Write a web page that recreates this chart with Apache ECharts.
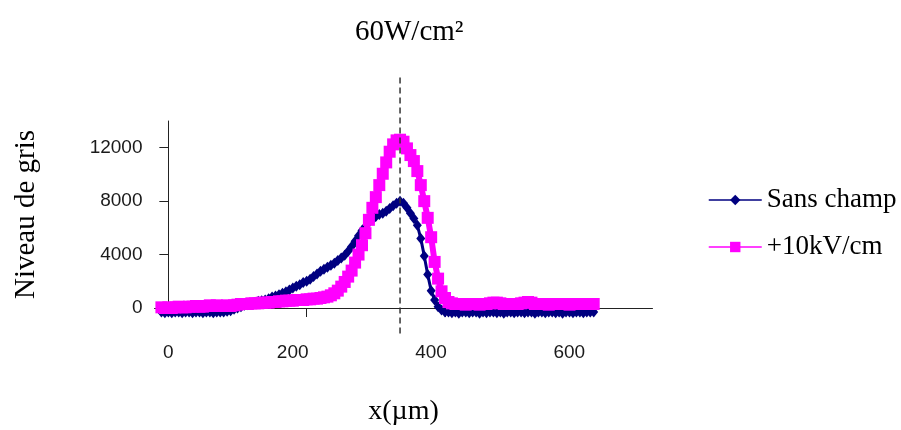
<!DOCTYPE html>
<html>
<head>
<meta charset="utf-8">
<script src="https://cdn.jsdelivr.net/npm/echarts@6/dist/echarts.min.js"></script>
<style>
html,body{margin:0;padding:0;background:#fff;}
#chart{width:901px;height:430px;}
</style>
</head>
<body>
<div id="chart"></div>
<script>
const chartTitle = '60W/cm\u00B2';
const xName = 'x(\u00B5m)';
const yName = 'Niveau de gris';
const seriesNames = ['Sans champ', '+10kV/cm'];
const xTicks = [0, 200, 400, 600];
const yTicks = [0, 4000, 8000, 12000];

const xMicrons = [
  -10, -5, 0, 5, 10, 15, 20, 25, 30, 35, 40, 45, 50, 55, 60, 65, 70, 75, 80, 85,
  90, 95, 100, 105, 110, 115, 120, 125, 130, 135, 140, 145, 150, 155, 160, 165, 170, 175, 180, 185,
  190, 195, 200, 205, 210, 215, 220, 225, 230, 235, 240, 245, 250, 255, 260, 265, 270, 275, 280, 285,
  290, 295, 300, 305, 310, 315, 320, 325, 330, 335, 340, 345, 350, 355, 360, 365, 370, 375, 380, 385,
  390, 395, 400, 405, 410, 415, 420, 425, 430, 435, 440, 445, 450, 455, 460, 465, 470, 475, 480, 485,
  490, 495, 500, 505, 510, 515, 520, 525, 530, 535, 540, 545, 550, 555, 560, 565, 570, 575, 580, 585,
  590, 595, 600, 605, 610, 615
];

const sansChamp = [
  -300, -350, -300, -350, -300, -300, -350, -300, -300, -350, -300, -300, -350, -300, -300, -350, -300, -300, -300, -250,
  -200, -100, 0, 100, 200, 250, 350, 420, 500, 550, 600, 700, 820, 900, 1000, 1100, 1220, 1350, 1500, 1620,
  1750, 1900, 2000, 2150, 2350, 2550, 2750, 2900, 3050, 3200, 3350, 3550, 3750, 3950, 4250, 4600, 5000, 5400, 5800, 6100,
  6400, 6600, 6850, 7000, 7100, 7250, 7450, 7650, 7850, 8000, 7850, 7500, 7100, 6700, 6200, 5200, 3900, 2500, 1300, 600,
  100, -150, -300, -300, -350, -300, -400, -300, -300, -350, -300, -300, -400, -300, -350, -300, -300, -350, -300, -400,
  -300, -300, -350, -300, -300, -350, -300, -300, -400, -300, -300, -350, -300, -300, -350, -300, -400, -300, -300, -350,
  -300, -300, -350, -300, -300, -300
];

const plus10kV = [
  50, 0, 50, 0, 50, 100, 50, 50, 100, 100, 150, 100, 100, 150, 200, 150, 200, 150, 150, 200,
  150, 200, 250, 300, 300, 300, 350, 350, 350, 400, 400, 400, 450, 450, 500, 500, 550, 550, 550, 600,
  600, 600, 650, 650, 700, 700, 750, 800, 850, 950, 1100, 1300, 1600, 1950, 2350, 2800, 3400, 4000, 4700, 5600,
  6600, 7500, 8300, 9200, 10050, 10900, 11700, 12250, 12550, 12600, 12450, 11950, 11450, 11000, 10250, 9200, 8000, 6750, 5300, 3450,
  2200, 1250, 750, 450, 350, 300, 300, 300, 250, 300, 300, 300, 250, 300, 300, 350, 400, 400, 350, 300,
  300, 300, 300, 300, 350, 400, 450, 400, 300, 300, 300, 300, 250, 300, 300, 300, 300, 300, 250, 300,
  300, 300, 300, 300, 300, 300
];

const peakX = [335, 335];
const peakY = [-1900, 17350];

function pairs(xs, ys) { return xs.map((x, i) => [x, ys[i]]); }

const chart = echarts.init(document.getElementById('chart'), null, {renderer: 'canvas'});
const axisColor = '#222';
const labelFont = {fontFamily: 'Liberation Sans', fontSize: 19, color: '#1a1a1a'};

chart.setOption({
  animation: false,
  backgroundColor: '#fff',
  title: {
    text: chartTitle,
    left: 350, top: 13,
    textStyle: {fontFamily: 'Liberation Serif', fontSize: 29, fontWeight: 'normal', color: '#000'}
  },
  legend: {
    orient: 'vertical',
    left: 703, top: 181,
    itemWidth: 53, itemHeight: 13, itemGap: 19,
    data: seriesNames,
    lineStyle: {width: 1.5},
    textStyle: {fontFamily: 'Liberation Serif', fontSize: 27, color: '#000', lineHeight: 28}
  },
  grid: {left: 154.5, right: 248.5, top: 121, bottom: 122, containLabel: false, outerBoundsMode: 'none'},
  xAxis: {
    type: 'value',
    min: -20, max: 700, interval: 20,
    name: xName,
    nameLocation: 'middle',
    nameGap: 90,
    nameTextStyle: {fontFamily: 'Liberation Serif', fontSize: 28, color: '#000'},
    axisLine: {show: true, onZero: true, lineStyle: {color: axisColor, width: 1}},
    axisTick: {show: true, inside: false, length: 9, customValues: xTicks, lineStyle: {color: axisColor}},
    axisLabel: {
      customValues: xTicks,
      margin: 35,
      formatter: function (v) { return v === 0 ? '{z|0}' : '{n|' + v + '}'; },
      rich: {
        z: Object.assign({}, labelFont),
        n: Object.assign({padding: [0, 28, 0, 0]}, labelFont)
      }
    },
    splitLine: {show: false}
  },
  yAxis: {
    type: 'value',
    min: 0, max: 14000, interval: 2000,
    name: yName,
    nameLocation: 'middle',
    nameGap: 114,
    nameRotate: 90,
    nameTextStyle: {fontFamily: 'Liberation Serif', fontSize: 29, color: '#000'},
    axisLine: {show: true, onZero: true, lineStyle: {color: axisColor, width: 1}},
    axisTick: {show: true, inside: false, length: 9, customValues: yTicks, lineStyle: {color: axisColor}},
    axisLabel: Object.assign({customValues: yTicks, margin: 12, formatter: function (v) { return String(v); }}, labelFont),
    splitLine: {show: false}
  },
  series: [
    {
      name: seriesNames[0],
      type: 'line',
      data: pairs(xMicrons, sansChamp),
      symbol: 'diamond',
      symbolSize: [9, 11],
      clip: false,
      itemStyle: {color: '#000080'},
      lineStyle: {color: '#000080', width: 3},
      z: 2
    },
    {
      name: seriesNames[1],
      type: 'line',
      data: pairs(xMicrons, plus10kV),
      symbol: 'rect',
      symbolSize: 12,
      clip: false,
      itemStyle: {color: '#ff00ff'},
      lineStyle: {color: '#ff00ff', width: 6},
      z: 3
    },
    {
      name: 'peak',
      type: 'line',
      data: pairs(peakX, peakY),
      symbol: 'none',
      clip: false,
      silent: true,
      lineStyle: {color: '#333', width: 1.5, type: [6, 4]},
      z: 4
    }
  ]
});
</script>
</body>
</html>
